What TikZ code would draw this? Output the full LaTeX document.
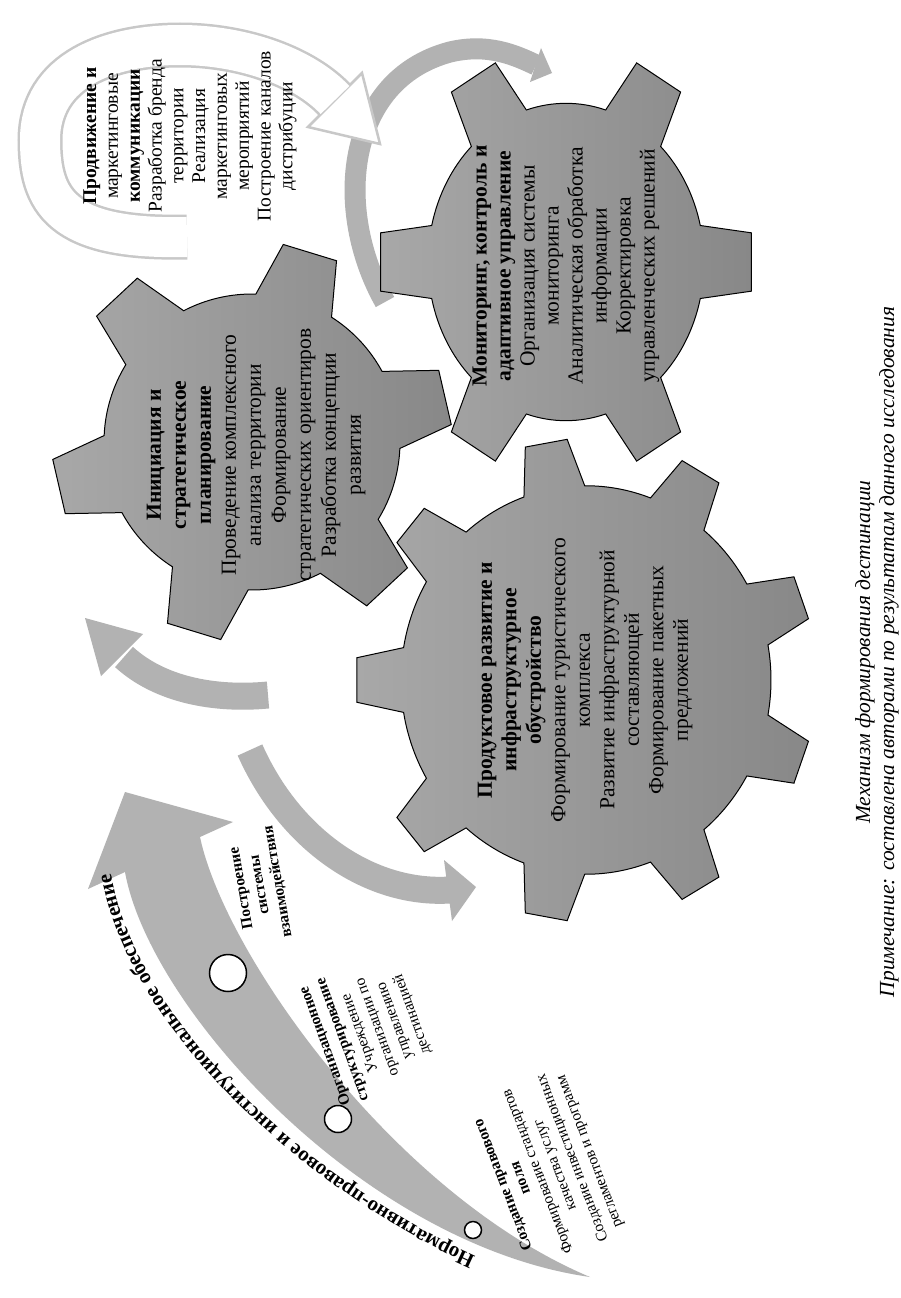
\documentclass[tikz,border=0pt]{standalone}
\usepackage{fontspec}
\setmainfont{Liberation Serif}
\usetikzlibrary{decorations.text}
\definecolor{arrowgray}{RGB}{178,178,178}
\definecolor{gearlight}{RGB}{168,168,168}
\definecolor{geardark}{RGB}{136,136,136}
\definecolor{tubeedge}{RGB}{200,200,200}
\tikzset{
  gearshape/.style={draw=black, line width=1pt, left color=gearlight, right color=geardark},
  geartext/.style={rotate=90, align=center, font=\fontsize{21.5}{25}\selectfont, inner sep=0pt},
  promotext/.style={rotate=90, align=center, font=\fontsize{19.5}{21.8}\selectfont, inner sep=0pt},
  labeltext/.style={align=center, font=\fontsize{15.5}{18.5}\selectfont, inner sep=0pt},
  stagedot/.style={circle, draw=black, line width=1.5pt, fill=white, inner sep=0pt},
  captiontext/.style={rotate=90, align=center, font=\fontsize{21.5}{24}\selectfont\itshape, inner sep=0pt},
}
% cx, cy, teeth, first angle, body radius, tip radius, root half angle, tip half angle, yscale
\newcommand\mygear[9]{%
  \begin{scope}[shift={(#1,#2)}, yscale=#9]
    \path[gearshape] ({#4-#7}:#5)
      \foreach \i in {1,...,#3} {
        -- ({#4+(\i-1)*360/#3-#8}:#6) -- ({#4+(\i-1)*360/#3+#8}:#6)
        -- ({#4+(\i-1)*360/#3+#7}:#5)
        arc[start angle={#4+(\i-1)*360/#3+#7}, end angle={#4+\i*360/#3-#7}, radius=#5]
      } -- cycle;
  \end{scope}}
\begin{document}
\begin{tikzpicture}[x=1pt, y=-1pt]
\useasboundingbox (0,0) rectangle (900,1298);
\fill[white] (0,0) rectangle (900,1298);

% gray arc towards the monitoring gear
\draw[arrowgray, line width=21pt] (385,302) .. controls (333,210) and (345,80) .. (450,52)
   .. controls (488,43) and (515,55) .. (536,65);
\fill[arrowgray] (541,48) -- (552,73) -- (530,82) -- cycle;

% white C-shaped arrow
\draw[tubeedge, line width=45pt] (187,237) .. controls (60,240) and (40,200) .. (40,140)
   .. controls (40,70) and (110,45) .. (180,45) .. controls (245,45) and (305,68) .. (335,100);
\filldraw[fill=white, draw=tubeedge, line width=2.5pt] (362,73) -- (380,144) -- (308,127) -- cycle;
\draw[white, line width=40pt] (187,237) .. controls (60,240) and (40,200) .. (40,140)
   .. controls (40,70) and (110,45) .. (180,45) .. controls (245,45) and (305,68) .. (335,100);

% gray cycle arrows
\draw[arrowgray, line width=27pt] (268,695) .. controls (215,700) and (160,690) .. (124,657);
\fill[arrowgray] (143,634) -- (85,618) -- (101,676) -- cycle;
\draw[arrowgray, line width=27pt] (250,750) .. controls (290,840) and (370,895) .. (450,890);
\fill[arrowgray] (444,860) -- (476,887) -- (452,921) -- cycle;

% gears
\mygear{252}{442}{6}{47}{148}{200}{15.5}{8}{1}
\mygear{566}{262}{6}{0}{138}{187}{13.3}{7.8}{1.15}
\mygear{586}{680}{9}{-20}{185}{230}{9.6}{5.3}{1.05}

% gear texts
\node[geartext] (tA) at (256,455) {\textbf{Инициация и}\\\textbf{стратегическое}\\\textbf{планирование}\\Проведение комплексного\\анализа территории\\Формирование\\стратегических ориентиров\\Разработка концепции\\развития};
\node[geartext, font=\fontsize{21.5}{24}\selectfont] (tB) at (566,266) {\textbf{Мониторинг, контроль и}\\\textbf{адаптивное управление}\\Организация системы\\мониторинга\\Аналитическая обработка\\информации\\Корректировка\\управленческих решений};
\node[geartext, font=\fontsize{21.5}{24.5}\selectfont] (tC) at (585,680) {\textbf{Продуктовое развитие и}\\\textbf{инфраструктурное}\\\textbf{обустройство}\\Формирование туристического\\комплекса\\Развитие инфраструктурной\\составляющей\\Формирование пакетных\\предложений};
\node[promotext] (tP) at (190,136) {\textbf{Продвижение и}\\маркетинговые\\\textbf{коммуникации}\\Разработка бренда\\территории\\Реализация\\маркетинговых\\мероприятий\\Построение каналов\\дистрибуции};

% legal / institutional curved arrow
\fill[arrowgray] (125,872) -- (88,889) -- (125,792) -- (233,822) -- (200,837)
  .. controls (225,955) and (395,1195) .. (590,1277)
  .. controls (365,1245) and (150,1010) .. (125,872) -- cycle;
\node[stagedot, minimum size=37pt] (d3) at (228,973) {};
\node[stagedot, minimum size=27pt] (d2) at (338,1119) {};
\node[stagedot, minimum size=17pt] (d1) at (473,1230) {};
\path[decorate, decoration={text along path, text align=center,
  text={|\fontsize{21}{21}\selectfont\bfseries|Нормативно-правовое и институциональное обеспечение}}]
  (506,1271) -- (470,1254) .. controls (325,1187) and (144,1037) .. (112,880) -- (104,841);

\node[labeltext, rotate=100] (l3) at (260,885) {\textbf{Построение}\\\textbf{системы}\\\textbf{взаимодействия}};
\node[labeltext, rotate=110] (l2) at (369,1030) {\textbf{Организационное}\\\textbf{структурирование}\\Учреждение\\организации по\\управлению\\дестинацией};
\node[labeltext, rotate=111] (l1) at (547,1168) {\textbf{Создание правового}\\\textbf{поля}\\Формирование стандартов\\качества услуг\\Создание инвестиционных\\регламентов и программ};

% caption
\node[captiontext] (cap) at (877,652) {Механизм формирования дестинации\\Примечание: составлена авторами по результатам данного исследования};
\end{tikzpicture}
\end{document}
